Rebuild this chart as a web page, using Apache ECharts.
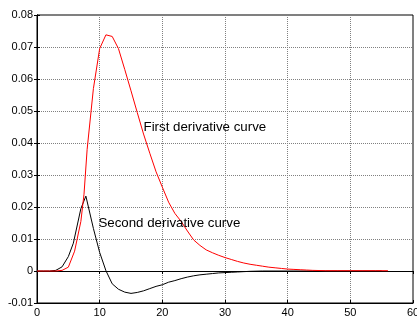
<!DOCTYPE html>
<html>
<head>
<meta charset="utf-8">
<script src="https://cdn.jsdelivr.net/npm/echarts@6/dist/echarts.min.js"></script>
<style>html,body{margin:0;padding:0;background:#fff}#c{width:417px;height:320px}</style>
</head>
<body>
<div id="c"></div>
<script>
var xTicks = [0, 10, 20, 30, 40, 50, 60];
var yTicks = [-0.01, 0, 0.01, 0.02, 0.03, 0.04, 0.05, 0.06, 0.07, 0.08];

var firstX = [0,1,2,3,4,5,6,7,7.5,8,9,10,11,12,13,14,15,16,17,18,19,20,21,22,23,24,25,26,27,28,29,30,31,32,33,34,35,36,37,38,39,40,41,42,43,44,46,48,50,52,54,56];
var firstY = [0,0,0,0,0.0002,0.0012,0.0062,0.0155,0.024,0.038,0.057,0.0695,0.0738,0.0733,0.0695,0.063,0.0563,0.0495,0.0428,0.0368,0.031,0.0262,0.0215,0.018,0.0155,0.0125,0.0097,0.008,0.0066,0.0057,0.0049,0.0042,0.0036,0.003,0.0025,0.0021,0.0018,0.0015,0.0012,0.001,0.0008,0.0006,0.0005,0.0004,0.0003,0.0002,0.0001,0.0001,0.0001,0.0001,0.0001,0.0001];

var secondX = [0,1,2,3,4,5,5.8,7,7.8,9,10,11,12,13,14,15,16,17,18,19,20,21,22,23,24,25,26,27,28,29,30,31,32,33,34,36,40,45,50,55];
var secondY = [0,0,0,0.0002,0.0013,0.0045,0.0087,0.0195,0.0234,0.0133,0.0058,0.0001,-0.004,-0.0057,-0.0066,-0.007,-0.0067,-0.0062,-0.0055,-0.0048,-0.0043,-0.0035,-0.003,-0.0024,-0.0019,-0.0015,-0.0012,-0.001,-0.0008,-0.0006,-0.0005,-0.0004,-0.0003,-0.0002,-0.0001,0,0,0,0,0];

var labelFirst = {text: 'First derivative curve', x: 17.0, y: 0.045};
var labelSecond = {text: 'Second derivative curve', x: 9.8, y: 0.0148};

function pairs(xs, ys){ return xs.map(function(x,i){ return [x, ys[i]]; }); }

var font = "'Liberation Sans', Arial, sans-serif";
var chart = echarts.init(document.getElementById('c'));
var tickStyle = {show: true, inside: true, length: 3, lineStyle: {color: '#000', width: 1}};
var split = {show: true, lineStyle: {type: 'dotted', color: '#808080', width: 1}};
function annot(l){
  return {
    symbol: 'circle', symbolSize: 0,
    data: [{coord: [l.x, l.y], value: l.text}],
    label: {show: true, position: 'right', distance: 0, formatter: '{c}', color: '#000', fontFamily: font, fontSize: 13.3}
  };
}
chart.setOption({
  animation: false,
  backgroundColor: '#fff',
  grid: {left: 37, right: 4, top: 15, bottom: 17, containLabel: false, outerBoundsMode: 'none',
    show: true, borderColor: '#000', borderWidth: 1, backgroundColor: 'transparent'},
  xAxis: [{
    type: 'value', min: xTicks[0], max: xTicks[xTicks.length-1], interval: 10,
    axisLine: {show: true, onZero: false, lineStyle: {color: '#000'}},
    axisTick: tickStyle,
    axisLabel: {color: '#000', fontFamily: font, fontSize: 11, margin: 4, hideOverlap: false},
    splitLine: split
  }, {
    type: 'value', position: 'top', min: xTicks[0], max: xTicks[xTicks.length-1], interval: 10,
    axisLine: {show: true, lineStyle: {color: '#000'}}, axisTick: tickStyle, axisLabel: {show: false}, splitLine: {show: false}
  }],
  yAxis: [{
    type: 'value', min: yTicks[0], max: yTicks[yTicks.length-1], interval: 0.01,
    axisLine: {show: true, onZero: false, lineStyle: {color: '#000'}},
    axisTick: tickStyle,
    axisLabel: {color: '#000', fontFamily: font, fontSize: 11, margin: 4,
      formatter: function(v){ return Math.abs(v) < 1e-9 ? '0' : v.toFixed(2); }},
    splitLine: split
  }, {
    type: 'value', position: 'right', min: yTicks[0], max: yTicks[yTicks.length-1], interval: 0.01,
    axisLine: {show: true, lineStyle: {color: '#000'}}, axisTick: tickStyle, axisLabel: {show: false}, splitLine: {show: false}
  }],
  series: [{
    name: 'First derivative curve', type: 'line', data: pairs(firstX, firstY),
    showSymbol: false, lineStyle: {color: '#ff0000', width: 1}, itemStyle: {color: '#ff0000'},
    markPoint: annot(labelFirst), z: 3
  }, {
    name: 'Second derivative curve', type: 'line', data: pairs(secondX, secondY),
    showSymbol: false, lineStyle: {color: '#000', width: 1}, itemStyle: {color: '#000'},
    markPoint: annot(labelSecond), z: 2
  }]
});
</script>
</body>
</html>
